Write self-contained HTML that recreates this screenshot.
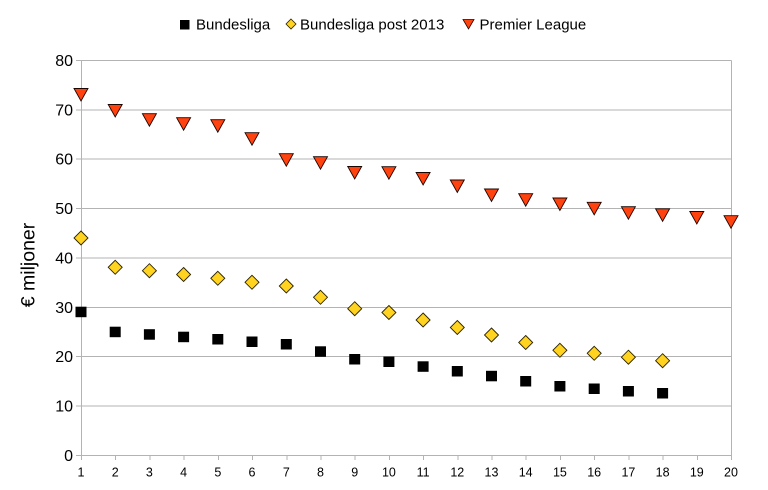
<!DOCTYPE html>
<html>
<head>
<meta charset="utf-8">
<style>
html,body{margin:0;padding:0;background:#fff;}
svg{display:block;}
text{font-family:"Liberation Sans",Arial,sans-serif;fill:#000;}
</style>
</head>
<body>
<svg width="768" height="490" viewBox="0 0 768 490" xmlns="http://www.w3.org/2000/svg">
<!-- gridlines -->
<g stroke="#b3b3b3" stroke-width="1" shape-rendering="crispEdges">
<line x1="76" y1="60.5" x2="731.5" y2="60.5"/>
<line x1="76" y1="109.9" x2="731.5" y2="109.9"/>
<line x1="76" y1="159.2" x2="731.5" y2="159.2"/>
<line x1="76" y1="208.6" x2="731.5" y2="208.6"/>
<line x1="76" y1="258" x2="731.5" y2="258"/>
<line x1="76" y1="307.3" x2="731.5" y2="307.3"/>
<line x1="76" y1="356.7" x2="731.5" y2="356.7"/>
<line x1="76" y1="406" x2="731.5" y2="406"/>
<line x1="76" y1="455.5" x2="731.5" y2="455.5"/>
<line x1="81.5" y1="60.5" x2="81.5" y2="460"/>
<line x1="731.5" y1="60.5" x2="731.5" y2="460"/>
<!-- x ticks -->
<line x1="115.7" y1="455" x2="115.7" y2="460"/>
<line x1="149.9" y1="455" x2="149.9" y2="460"/>
<line x1="184.1" y1="455" x2="184.1" y2="460"/>
<line x1="218.3" y1="455" x2="218.3" y2="460"/>
<line x1="252.5" y1="455" x2="252.5" y2="460"/>
<line x1="286.8" y1="455" x2="286.8" y2="460"/>
<line x1="321" y1="455" x2="321" y2="460"/>
<line x1="355.2" y1="455" x2="355.2" y2="460"/>
<line x1="389.4" y1="455" x2="389.4" y2="460"/>
<line x1="423.6" y1="455" x2="423.6" y2="460"/>
<line x1="457.8" y1="455" x2="457.8" y2="460"/>
<line x1="492" y1="455" x2="492" y2="460"/>
<line x1="526.2" y1="455" x2="526.2" y2="460"/>
<line x1="560.4" y1="455" x2="560.4" y2="460"/>
<line x1="594.7" y1="455" x2="594.7" y2="460"/>
<line x1="628.9" y1="455" x2="628.9" y2="460"/>
<line x1="663.1" y1="455" x2="663.1" y2="460"/>
<line x1="697.3" y1="455" x2="697.3" y2="460"/>
</g>

<!-- y labels -->
<g font-size="16" text-anchor="end">
<text x="73" y="66">80</text>
<text x="73" y="115.4">70</text>
<text x="73" y="164.7">60</text>
<text x="73" y="214.1">50</text>
<text x="73" y="263.5">40</text>
<text x="73" y="312.8">30</text>
<text x="73" y="362.2">20</text>
<text x="73" y="411.5">10</text>
<text x="73" y="461">0</text>
</g>

<!-- x labels -->
<g font-size="12.5" text-anchor="middle">
<text x="81" y="476.5">1</text>
<text x="115.2" y="476.5">2</text>
<text x="149.4" y="476.5">3</text>
<text x="183.6" y="476.5">4</text>
<text x="217.8" y="476.5">5</text>
<text x="252" y="476.5">6</text>
<text x="286.3" y="476.5">7</text>
<text x="320.5" y="476.5">8</text>
<text x="354.7" y="476.5">9</text>
<text x="388.9" y="476.5">10</text>
<text x="423.1" y="476.5">11</text>
<text x="457.3" y="476.5">12</text>
<text x="491.5" y="476.5">13</text>
<text x="525.7" y="476.5">14</text>
<text x="559.9" y="476.5">15</text>
<text x="594.2" y="476.5">16</text>
<text x="628.4" y="476.5">17</text>
<text x="662.6" y="476.5">18</text>
<text x="696.8" y="476.5">19</text>
<text x="731" y="476.5">20</text>
</g>

<!-- y axis title -->
<text transform="translate(34.5,265) rotate(-90)" font-size="19.5" text-anchor="middle">€ miljoner</text>

<!-- Bundesliga squares -->
<g fill="#000">
<rect x="75.5" y="306.7" width="11" height="10.5"/>
<rect x="109.7" y="326.7" width="11" height="10.5"/>
<rect x="143.9" y="329.2" width="11" height="10.5"/>
<rect x="178.1" y="331.7" width="11" height="10.5"/>
<rect x="212.3" y="334" width="11" height="10.5"/>
<rect x="246.5" y="336.5" width="11" height="10.5"/>
<rect x="280.8" y="339" width="11" height="10.5"/>
<rect x="315" y="346.3" width="11" height="10.5"/>
<rect x="349.2" y="354" width="11" height="10.5"/>
<rect x="383.4" y="356.5" width="11" height="10.5"/>
<rect x="417.6" y="361.3" width="11" height="10.5"/>
<rect x="451.8" y="366" width="11" height="10.5"/>
<rect x="486" y="370.8" width="11" height="10.5"/>
<rect x="520.2" y="376" width="11" height="10.5"/>
<rect x="554.4" y="381" width="11" height="10.5"/>
<rect x="588.7" y="383.5" width="11" height="10.5"/>
<rect x="622.9" y="386" width="11" height="10.5"/>
<rect x="657.1" y="388" width="11" height="10.5"/>
</g>

<!-- Bundesliga post 2013 diamonds -->
<g fill="#ffd320" stroke="#2a2200" stroke-width="0.9">
<polygon points="81,231 88,238 81,245 74,238"/>
<polygon points="115.2,260.3 122.2,267.3 115.2,274.3 108.2,267.3"/>
<polygon points="149.4,263.7 156.4,270.7 149.4,277.7 142.4,270.7"/>
<polygon points="183.6,267.5 190.6,274.5 183.6,281.5 176.6,274.5"/>
<polygon points="217.8,271.3 224.8,278.3 217.8,285.3 210.8,278.3"/>
<polygon points="252,275.3 259,282.3 252,289.3 245,282.3"/>
<polygon points="286.3,279 293.3,286 286.3,293 279.3,286"/>
<polygon points="320.5,290.3 327.5,297.3 320.5,304.3 313.5,297.3"/>
<polygon points="354.7,301.7 361.7,308.7 354.7,315.7 347.7,308.7"/>
<polygon points="388.9,305.5 395.9,312.5 388.9,319.5 381.9,312.5"/>
<polygon points="423.1,313 430.1,320 423.1,327 416.1,320"/>
<polygon points="457.3,320.5 464.3,327.5 457.3,334.5 450.3,327.5"/>
<polygon points="491.5,328 498.5,335 491.5,342 484.5,335"/>
<polygon points="525.7,335.5 532.7,342.5 525.7,349.5 518.7,342.5"/>
<polygon points="559.9,343.3 566.9,350.3 559.9,357.3 552.9,350.3"/>
<polygon points="594.2,346.3 601.2,353.3 594.2,360.3 587.2,353.3"/>
<polygon points="628.4,350.2 635.4,357.2 628.4,364.2 621.4,357.2"/>
<polygon points="662.6,353.7 669.6,360.7 662.6,367.7 655.6,360.7"/>
</g>

<!-- Premier League triangles -->
<g fill="#ff420e" stroke="#1a0500" stroke-width="0.9">
<polygon points="74,88.5 88,88.5 81,101"/>
<polygon points="108.2,104.5 122.2,104.5 115.2,117"/>
<polygon points="142.4,113.7 156.4,113.7 149.4,126.2"/>
<polygon points="176.6,117.7 190.6,117.7 183.6,130.2"/>
<polygon points="210.8,119.7 224.8,119.7 217.8,132.2"/>
<polygon points="245,132.7 259,132.7 252,145.2"/>
<polygon points="279.3,153.7 293.3,153.7 286.3,166.2"/>
<polygon points="313.5,156.7 327.5,156.7 320.5,169.2"/>
<polygon points="347.7,166.5 361.7,166.5 354.7,179"/>
<polygon points="381.9,166.7 395.9,166.7 388.9,179.2"/>
<polygon points="416.1,172.5 430.1,172.5 423.1,185"/>
<polygon points="450.3,180 464.3,180 457.3,192.5"/>
<polygon points="484.5,189 498.5,189 491.5,201.5"/>
<polygon points="518.7,193.7 532.7,193.7 525.7,206.2"/>
<polygon points="552.9,198 566.9,198 559.9,210.5"/>
<polygon points="587.2,202.3 601.2,202.3 594.2,214.8"/>
<polygon points="621.4,206.7 635.4,206.7 628.4,219.2"/>
<polygon points="655.6,208.8 669.6,208.8 662.6,221.3"/>
<polygon points="689.8,211.5 703.8,211.5 696.8,224"/>
<polygon points="724,215.7 738,215.7 731,228.2"/>
</g>

<!-- legend -->
<rect x="180" y="20" width="9.5" height="9.5" fill="#000"/>
<text x="196" y="29.5" font-size="15">Bundesliga</text>
<polygon points="291,19 296,24 291,29 286,24" fill="#ffd320" stroke="#2a2200" stroke-width="0.8"/>
<text x="300" y="29.5" font-size="15">Bundesliga post 2013</text>
<polygon points="463,19.5 474,19.5 468.5,29" fill="#ff420e" stroke="#1a0500" stroke-width="0.8"/>
<text x="479.5" y="29.5" font-size="15">Premier League</text>
</svg>
</body>
</html>
